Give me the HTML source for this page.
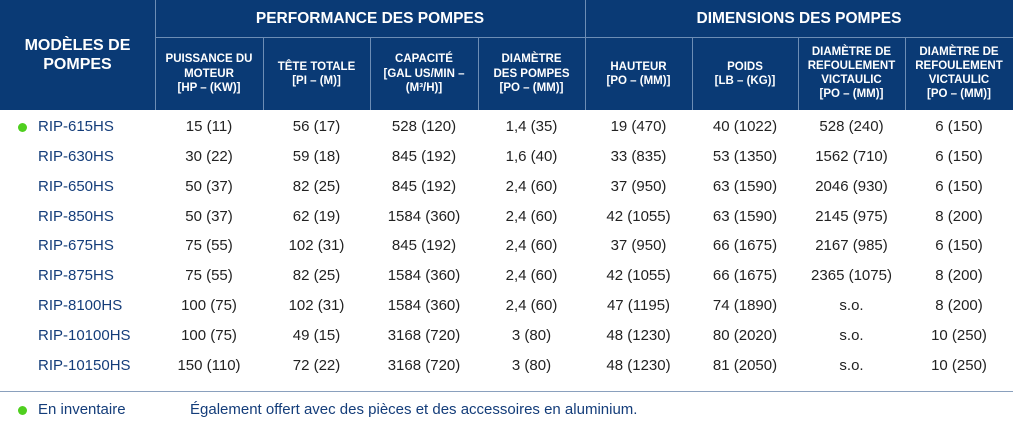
<!DOCTYPE html>
<html><head><meta charset="utf-8"><style>
*{margin:0;padding:0;box-sizing:border-box}
body{width:1013px;height:432px;background:#fff;font-family:"Liberation Sans",sans-serif;position:relative;overflow:hidden}
.hdr{position:absolute;left:0;top:0;width:1013px;height:110px;background:#0a3a75}
.h{position:absolute;color:#fff;font-weight:bold;display:flex;align-items:center;justify-content:center;text-align:center;line-height:1.25}
.vl{position:absolute;width:1px;background:#6d8db5}
.c{position:absolute;font-size:15px;color:#222;text-align:center;height:20px;line-height:20px}
.m{position:absolute;left:38px;font-size:15px;color:#143d7a;height:20px;line-height:20px}
.dot{position:absolute;width:9px;height:9px;border-radius:50%;background:#4fcf1f}
</style></head><body>
<div class="hdr"></div>
<div class="vl" style="left:155px;top:0;height:110px"></div>
<div class="vl" style="left:585px;top:0;height:110px"></div>
<div class="vl" style="left:155px;top:37px;width:858px;height:1px"></div>
<div class="vl" style="left:263px;top:37px;height:73px"></div>
<div class="vl" style="left:370px;top:37px;height:73px"></div>
<div class="vl" style="left:478px;top:37px;height:73px"></div>
<div class="vl" style="left:692px;top:37px;height:73px"></div>
<div class="vl" style="left:798px;top:37px;height:73px"></div>
<div class="vl" style="left:905px;top:37px;height:73px"></div>
<div class="h" style="left:0;top:0;width:155px;height:110px;font-size:16px;line-height:1.2">MODÈLES DE<br>POMPES</div>
<div class="h" style="left:155px;top:0;width:430px;height:37px;font-size:15.5px">PERFORMANCE DES POMPES</div>
<div class="h" style="left:585px;top:0;width:428px;height:37px;font-size:15.5px">DIMENSIONS DES POMPES</div>
<div class="h" style="left:155px;top:38px;width:108px;height:72px;font-size:11.5px">PUISSANCE DU<br>MOTEUR<br>[HP – (KW)]</div>
<div class="h" style="left:263px;top:38px;width:107px;height:72px;font-size:11.5px">TÊTE TOTALE<br>[PI – (M)]</div>
<div class="h" style="left:370px;top:38px;width:108px;height:72px;font-size:11.5px">CAPACITÉ<br>[GAL US/MIN –<br>(M³/H)]</div>
<div class="h" style="left:478px;top:38px;width:107px;height:72px;font-size:11.5px">DIAMÈTRE<br>DES POMPES<br>[PO – (MM)]</div>
<div class="h" style="left:585px;top:38px;width:107px;height:72px;font-size:11.5px">HAUTEUR<br>[PO – (MM)]</div>
<div class="h" style="left:692px;top:38px;width:106px;height:72px;font-size:11.5px">POIDS<br>[LB – (KG)]</div>
<div class="h" style="left:798px;top:38px;width:107px;height:72px;font-size:11.5px;line-height:1.2">DIAMÈTRE DE<br>REFOULEMENT<br>VICTAULIC<br>[PO – (MM)]</div>
<div class="h" style="left:905px;top:38px;width:108px;height:72px;font-size:11.5px;line-height:1.2">DIAMÈTRE DE<br>REFOULEMENT<br>VICTAULIC<br>[PO – (MM)]</div>
<div id="rows"></div>
<div style="position:absolute;left:0;top:391px;width:1013px;height:1px;background:#8aa0bd"></div>
<div class="dot" style="left:18px;top:406px"></div>
<div class="m" style="top:400px">En inventaire</div>
<div class="m" style="left:190px;top:400px">Également offert avec des pièces et des accessoires en aluminium.</div>
<script>
const models=["RIP-615HS","RIP-630HS","RIP-650HS","RIP-850HS","RIP-675HS","RIP-875HS","RIP-8100HS","RIP-10100HS","RIP-10150HS"];
const power=["15 (11)","30 (22)","50 (37)","50 (37)","75 (55)","75 (55)","100 (75)","100 (75)","150 (110)"];
const head=["56 (17)","59 (18)","82 (25)","62 (19)","102 (31)","82 (25)","102 (31)","49 (15)","72 (22)"];
const capacity=["528 (120)","845 (192)","845 (192)","1584 (360)","845 (192)","1584 (360)","1584 (360)","3168 (720)","3168 (720)"];
const diam=["1,4 (35)","1,6 (40)","2,4 (60)","2,4 (60)","2,4 (60)","2,4 (60)","2,4 (60)","3 (80)","3 (80)"];
const heightV=["19 (470)","33 (835)","37 (950)","42 (1055)","37 (950)","42 (1055)","47 (1195)","48 (1230)","48 (1230)"];
const weight=["40 (1022)","53 (1350)","63 (1590)","63 (1590)","66 (1675)","66 (1675)","74 (1890)","80 (2020)","81 (2050)"];
const disch1=["528 (240)","1562 (710)","2046 (930)","2145 (975)","2167 (985)","2365 (1075)","s.o.","s.o.","s.o."];
const disch2=["6 (150)","6 (150)","6 (150)","8 (200)","6 (150)","8 (200)","8 (200)","10 (250)","10 (250)"];
const inStock=[true,false,false,false,false,false,false,false,false];
const cols=[power,head,capacity,diam,heightV,weight,disch1,disch2];
const colX=[155,263,370,478,585,692,798,905,1013];
const root=document.getElementById('rows');
models.forEach((m,i)=>{
  const y=117+i*29.85;
  const d=document.createElement('div');
  d.className='m';d.style.top=y+'px';d.textContent=m;
  
  
  root.appendChild(d);
  if(inStock[i]){
    const dt=document.createElement('div');
    dt.className='dot';dt.style.left='18px';dt.style.top=(y+6)+'px';
    
    
    root.appendChild(dt);
  }
  cols.forEach((c,j)=>{
    const e=document.createElement('div');
    e.className='c';e.style.top=y+'px';e.style.left=colX[j]+'px';e.style.width=(colX[j+1]-colX[j])+'px';
    e.textContent=c[i];
    
    
    root.appendChild(e);
  });
});
</script>
</body></html>
